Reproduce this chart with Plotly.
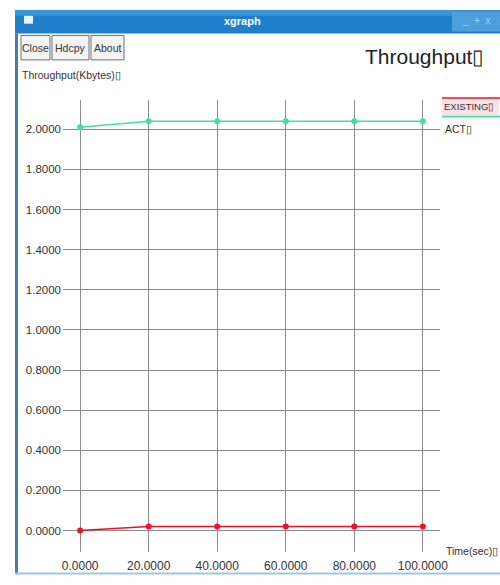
import plotly.graph_objects as go

# Throughput samples over simulation time
time_sec = [0, 20, 40, 60, 80, 100]
act_kbytes = [2.01, 2.04, 2.04, 2.04, 2.04, 2.04]
existing_kbytes = [0.00, 0.02, 0.02, 0.02, 0.02, 0.02]

x_ticks = [0, 20, 40, 60, 80, 100]
x_tick_text = ["0.0000", "20.0000", "40.0000", "60.0000", "80.0000", "100.0000"]
y_ticks = [0.0, 0.2, 0.4, 0.6, 0.8, 1.0, 1.2, 1.4, 1.6, 1.8, 2.0]
y_tick_text = ["0.0000", "0.2000", "0.4000", "0.6000", "0.8000", "1.0000",
               "1.2000", "1.4000", "1.6000", "1.8000", "2.0000"]

W, H = 500, 585
ML, MR, MT, MB = 63, 60, 100, 23
PW, PH = W - ML - MR, H - MT - MB

FONT = "Liberation Sans, Arial, sans-serif"
TOFU = "\u25af"

RED = "#e8142c"
GREEN = "#3be39c"


def px(x):
    return (x - ML) / PW


def py(y):
    return (H - MB - y) / PH


fig = go.Figure()

fig.add_trace(go.Scatter(
    x=time_sec, y=existing_kbytes, mode="lines+markers", name="EXISTING",
    line=dict(color=RED, width=1.6), marker=dict(color=RED, size=6),
    cliponaxis=False,
))
fig.add_trace(go.Scatter(
    x=time_sec, y=act_kbytes, mode="lines+markers", name="ACT",
    line=dict(color=GREEN, width=1.6), marker=dict(color=GREEN, size=6),
    cliponaxis=False,
))

shapes = []
annotations = []

# window frame: title bar and borders
shapes.append(dict(type="rect", xref="paper", yref="paper",
                   x0=px(15), x1=px(500), y0=py(32), y1=py(8),
                   fillcolor="#1f7fcc", line=dict(width=0), layer="below"))
shapes.append(dict(type="rect", xref="paper", yref="paper",
                   x0=px(15), x1=px(500), y0=py(14), y1=py(8),
                   fillcolor="#3a95d8", line=dict(width=0), layer="below"))
shapes.append(dict(type="rect", xref="paper", yref="paper",
                   x0=px(452), x1=px(500), y0=py(30), y1=py(10),
                   fillcolor="#4d9fdc", line=dict(width=0), layer="below"))
shapes.append(dict(type="rect", xref="paper", yref="paper",
                   x0=px(24), x1=px(33), y0=py(22), y1=py(14),
                   fillcolor="#e8f2fb", line=dict(width=0), layer="below"))
shapes.append(dict(type="rect", xref="paper", yref="paper",
                   x0=px(15), x1=px(18), y0=py(585), y1=py(32),
                   fillcolor="#4a7fa3", line=dict(width=0), layer="below"))
shapes.append(dict(type="rect", xref="paper", yref="paper",
                   x0=px(15), x1=px(500), y0=py(585), y1=py(583),
                   fillcolor="#9cc8e4", line=dict(width=0), layer="below"))

annotations.append(dict(text="<b>xgraph</b>", xref="paper", yref="paper",
                        x=px(242), y=py(19), xanchor="center", yanchor="middle",
                        showarrow=False, font=dict(family=FONT, size=11, color="white")))
annotations.append(dict(text="_  +  x", xref="paper", yref="paper",
                        x=px(476), y=py(19), xanchor="center", yanchor="middle",
                        showarrow=False, font=dict(family=FONT, size=10, color="#a9d2f0")))

# toolbar buttons
for label, x0, x1 in [("Close", 21, 50), ("Hdcpy", 52, 89), ("About", 91, 124)]:
    shapes.append(dict(type="rect", xref="paper", yref="paper",
                       x0=px(x0), x1=px(x1), y0=py(59), y1=py(34),
                       fillcolor="#f4f4f4", line=dict(color="#6e6e6e", width=1),
                       layer="below"))
    annotations.append(dict(text=label, xref="paper", yref="paper",
                            x=px((x0 + x1) / 2), y=py(46.5), xanchor="center",
                            yanchor="middle", showarrow=False,
                            font=dict(family=FONT, size=10.5, color="#333")))

# titles
annotations.append(dict(text="Throughput" + TOFU, xref="paper", yref="paper",
                        x=px(486), y=py(56), xanchor="right", yanchor="middle",
                        showarrow=False, font=dict(family=FONT, size=21, color="#222")))
annotations.append(dict(text="Throughput(Kbytes)" + TOFU, xref="paper", yref="paper",
                        x=px(20), y=py(74), xanchor="left", yanchor="middle",
                        showarrow=False, font=dict(family=FONT, size=10.5, color="#333")))
annotations.append(dict(text="Time(sec)" + TOFU, xref="paper", yref="paper",
                        x=px(444), y=py(561), xanchor="left", yanchor="middle",
                        showarrow=False, font=dict(family=FONT, size=10.5, color="#333")))

# legend: line sample above each series name
shapes.append(dict(type="rect", xref="paper", yref="paper",
                   x0=px(442), x1=px(499), y0=py(116), y1=py(98),
                   fillcolor="rgba(240,170,180,0.35)", line=dict(width=0), layer="below"))
shapes.append(dict(type="line", xref="paper", yref="paper",
                   x0=px(442), x1=px(500), y0=py(98), y1=py(98),
                   line=dict(color=RED, width=1.5)))
annotations.append(dict(text="EXISTING" + TOFU, xref="paper", yref="paper",
                        x=px(442), y=py(107), xanchor="left", yanchor="middle",
                        showarrow=False, font=dict(family=FONT, size=9.5, color="#333")))
shapes.append(dict(type="line", xref="paper", yref="paper",
                   x0=px(442), x1=px(500), y0=py(117), y1=py(117),
                   line=dict(color=GREEN, width=1.6)))
annotations.append(dict(text="ACT" + TOFU, xref="paper", yref="paper",
                        x=px(443), y=py(130), xanchor="left", yanchor="middle",
                        showarrow=False, font=dict(family=FONT, size=10.5, color="#333")))

fig.update_layout(
    width=W, height=H,
    margin=dict(l=ML, r=MR, t=MT, b=MB, pad=0),
    paper_bgcolor="white", plot_bgcolor="white",
    showlegend=False,
    shapes=shapes, annotations=annotations,
    font=dict(family=FONT, color="#333"),
)
fig.update_xaxes(
    range=[-5, 105], tickvals=x_ticks, ticktext=x_tick_text,
    showgrid=True, gridcolor="#8c8c8c", gridwidth=1.2,
    zeroline=False, showline=False, ticks="", ticklabelstandoff=5,
    tickfont=dict(family=FONT, size=12, color="#333"), fixedrange=True,
)
fig.update_yaxes(
    range=[-0.107, 2.146], tickvals=y_ticks, ticktext=y_tick_text,
    showgrid=True, gridcolor="#8c8c8c", gridwidth=1.2,
    zeroline=False, showline=False, ticks="", ticklabelstandoff=1,
    tickfont=dict(family=FONT, size=11.5, color="#333"), fixedrange=True,
)

fig.write_html("out.html")
